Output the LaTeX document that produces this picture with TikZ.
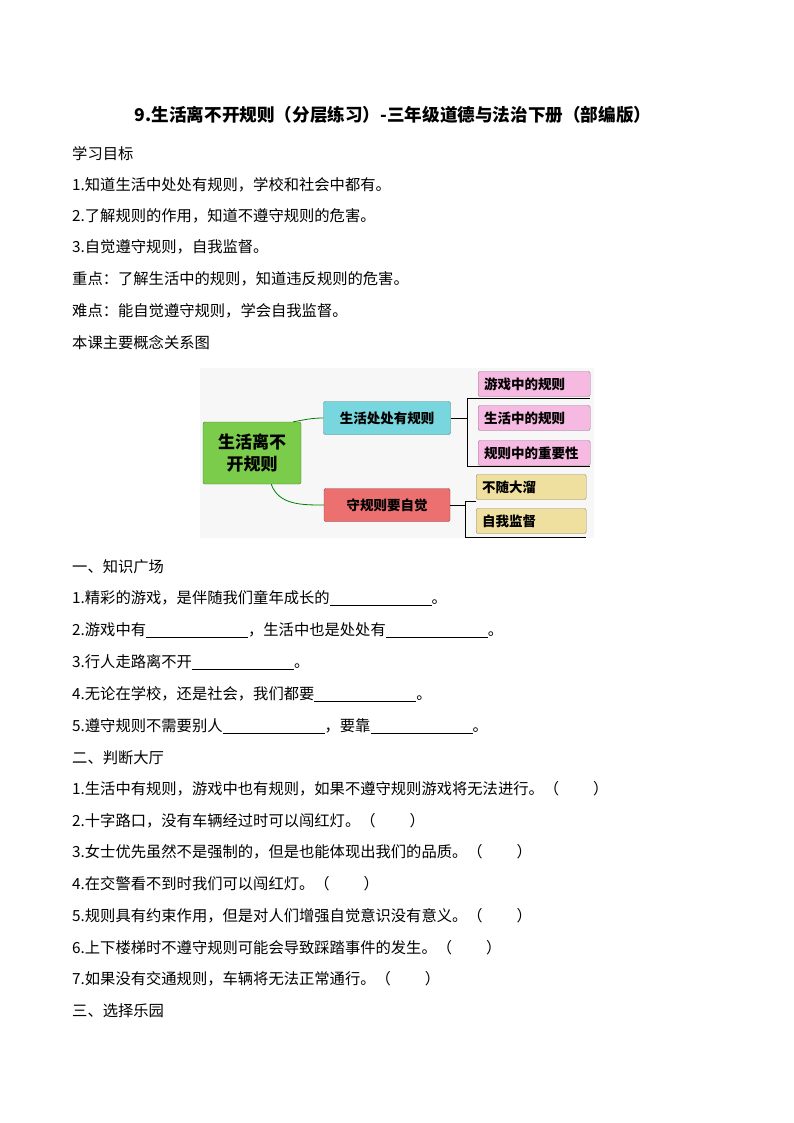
\documentclass[tikz,border=0pt]{standalone}
\usepackage{fontspec}
\setmainfont{Liberation Serif}
\newfontfamily\cjk{Noto Sans CJK SC}
\usetikzlibrary{positioning}
\definecolor{turq}{RGB}{120,214,222}
\definecolor{lgreen}{RGB}{122,204,74}
\definecolor{salmon}{RGB}{236,112,112}
\definecolor{pinkb}{RGB}{246,186,226}
\definecolor{yelb}{RGB}{240,224,160}
\newcommand{\blank}[1]{\rule[-2pt]{#1pt}{0.6pt}}
\begin{document}
\begin{tikzpicture}[x=1pt,y=-1pt,
  tl/.style={anchor=west,inner sep=0pt,font=\cjk\fontsize{15.3}{15}\selectfont},
  box/.style={draw=#1!60!black,rounded corners=2pt,inner sep=0pt,font=\cjk\bfseries\fontsize{13.5}{15}\selectfont},
  br/.style={draw=black,line width=0.7pt}]
\useasboundingbox (0,0) rectangle (794,1123);
\fill[white] (0,0) rectangle (794,1123);
\node[inner sep=0pt,font=\cjk\bfseries\fontsize{17.6}{17}\selectfont] (title) at (393,115) {9.生活离不开规则（分层练习）-三年级道德与法治下册（部编版）};
\node[tl] (l1) at (72,154) {学习目标};
\node[tl] (l2) at (72,185) {1.知道生活中处处有规则，学校和社会中都有。};
\node[tl] (l3) at (72,216) {2.了解规则的作用，知道不遵守规则的危害。};
\node[tl] (l4) at (72,247) {3.自觉遵守规则，自我监督。};
\node[tl] (l5) at (72,279) {重点：了解生活中的规则，知道违反规则的危害。};
\node[tl] (l6) at (72,311) {难点：能自觉遵守规则，学会自我监督。};
\node[tl] (l7) at (72,343) {本课主要概念关系图};
% mind map
\fill[gray!6] (200,368) rectangle (594,538);
\node[box=lgreen,fill=lgreen,minimum width=98pt,minimum height=62pt,align=center,font=\cjk\bfseries\fontsize{17}{22}\selectfont] (root) at (252,453) {生活离不\\开规则};
\node[box=turq,fill=turq,minimum width=127pt,minimum height=33pt] (a) at (387,418) {生活处处有规则};
\node[box=salmon,fill=salmon,minimum width=126pt,minimum height=33pt] (b) at (387,505) {守规则要自觉};
\draw[green!50!black,thick] (root.north east) ++(-8,0) coordinate (r1) to[out=10,in=180] (a.west);
\draw[green!50!black,thick] (root.south east) ++(-30,0) to[out=-70,in=180] (b.west);
\tikzset{pk/.style={box=pinkb,fill=pinkb,minimum width=112pt,minimum height=25pt,anchor=west,text width=100pt}}
\node[pk] (p1) at (478,384) {游戏中的规则};
\node[pk] (p2) at (478,418) {生活中的规则};
\node[pk] (p3) at (478,453) {规则中的重要性};
\tikzset{yl/.style={box=yelb,fill=yelb,minimum width=110pt,minimum height=25pt,anchor=west,text width=98pt}}
\node[yl] (y1) at (476,487) {不随大溜};
\node[yl] (y2) at (476,521) {自我监督};
\coordinate (c1) at (467,398);
\coordinate (c2) at (467,466);
\draw[br] (a.east) -- (467,418);
\draw[br] (590,398) -- (c1) -- (c2) -- (590,466);
\draw[br] (b.east) -- (465,505);
\draw[br] (476,501) -- (465,501) -- (465,537) -- (586,537);
\node[tl] (m1) at (72,567) {一、知识广场};
\node[tl] (m2) at (72,598) {1.精彩的游戏，是伴随我们童年成长的\blank{102}。};
\node[tl] (m3) at (72,630) {2.游戏中有\blank{102}，生活中也是处处有\blank{102}。};
\node[tl] (m4) at (72,662) {3.行人走路离不开\blank{102}。};
\node[tl] (m5) at (72,694) {4.无论在学校，还是社会，我们都要\blank{102}。};
\node[tl] (m6) at (72,726) {5.遵守规则不需要别人\blank{102}，要靠\blank{102}。};
\node[tl] (m7) at (72,758) {二、判断大厅};
\node[tl] (m8) at (72,789) {1.生活中有规则，游戏中也有规则，如果不遵守规则游戏将无法进行。（\hspace{34pt}）};
\node[tl] (m9) at (72,821) {2.十字路口，没有车辆经过时可以闯红灯。（\hspace{34pt}）};
\node[tl] (m10) at (72,852) {3.女士优先虽然不是强制的，但是也能体现出我们的品质。（\hspace{34pt}）};
\node[tl] (m11) at (72,884) {4.在交警看不到时我们可以闯红灯。（\hspace{34pt}）};
\node[tl] (m12) at (72,916) {5.规则具有约束作用，但是对人们增强自觉意识没有意义。（\hspace{34pt}）};
\node[tl] (m13) at (72,948) {6.上下楼梯时不遵守规则可能会导致踩踏事件的发生。（\hspace{34pt}）};
\node[tl] (m14) at (72,979) {7.如果没有交通规则，车辆将无法正常通行。（\hspace{34pt}）};
\node[tl] (m15) at (72,1011) {三、选择乐园};
\end{tikzpicture}
\end{document}
